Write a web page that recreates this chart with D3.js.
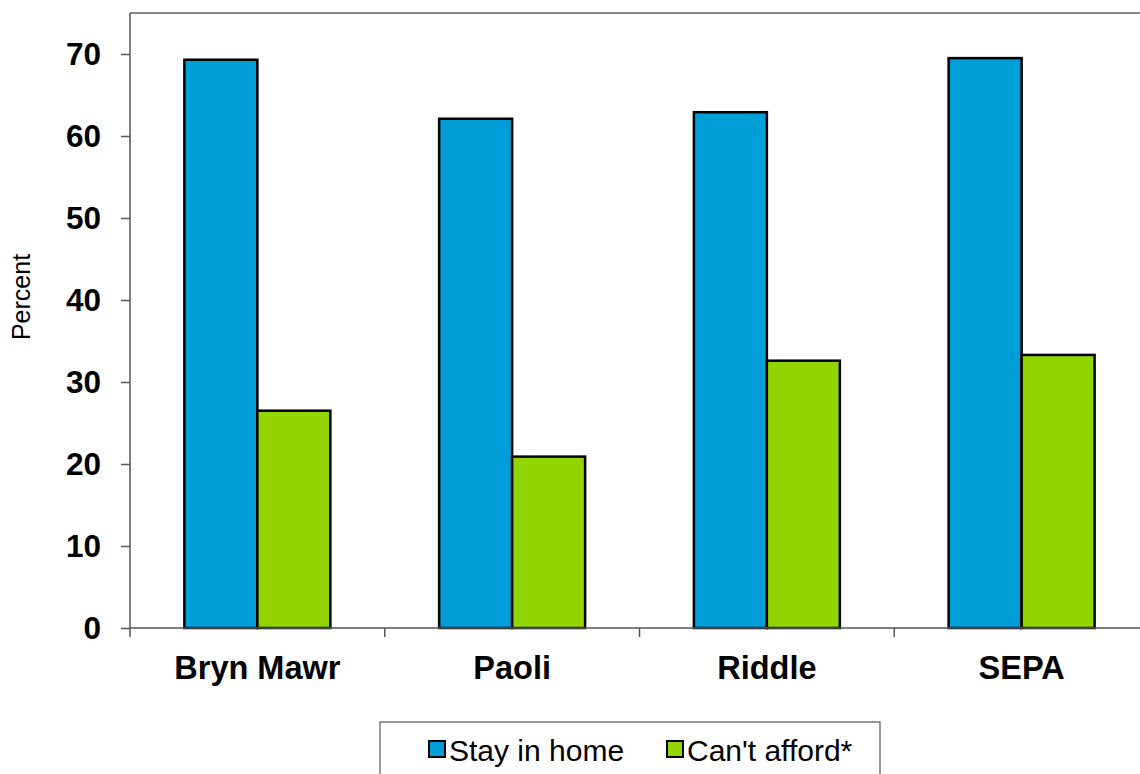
<!DOCTYPE html>
<html>
<head>
<meta charset="utf-8">
<script src="https://cdn.jsdelivr.net/npm/d3@7"></script>
<style>
  html, body { margin: 0; padding: 0; background: #fff; overflow: hidden; }
  svg { display: block; overflow: hidden; }
</style>
</head>
<body>
<svg id="chart" width="1140" height="774"></svg>
<script>
const categories = ["Bryn Mawr", "Paoli", "Riddle", "SEPA"];
const seriesNames = ["Stay in home", "Can't afford*"];
const stayInHome = [69.3, 62.1, 62.9, 69.5];
const cantAfford = [26.5, 20.9, 32.6, 33.3];
const yTicks = [0, 10, 20, 30, 40, 50, 60, 70];
const colors = ["#009ED8", "#93D500"];

(function () {
const root = d3.select("#chart");
root.append("defs").append("clipPath").attr("id", "view")
  .append("rect").attr("x", 0).attr("y", 0).attr("width", 1140).attr("height", 774);
const svg = root.append("g").attr("clip-path", "url(#view)");
const font = "'Liberation Sans', Arial, sans-serif";

const pLeft = 130, pRight = 1149, pTop = 13, pBottom = 628;

const x0 = d3.scaleBand().domain(categories).range([pLeft, pRight]).paddingInner(0.427).paddingOuter(0.2135);
const x1 = d3.scaleBand().domain(seriesNames).range([0, x0.bandwidth()]);
const y = d3.scaleLinear().domain([0, 75]).range([pBottom, pBottom - 75 * 8.2]);

// top frame line
svg.append("line").attr("x1", pLeft).attr("x2", pRight).attr("y1", pTop).attr("y2", pTop)
  .attr("stroke", "#888").attr("stroke-width", 2);

const rows = categories.map((c, i) => ({ cat: c, vals: [stayInHome[i], cantAfford[i]] }));

const groups = svg.append("g").selectAll("g").data(rows).join("g")
  .attr("transform", d => `translate(${x0(d.cat)},0)`);
groups.selectAll("rect").data(d => d.vals.map((v, j) => ({ v, s: seriesNames[j], j })))
  .join("rect")
  .attr("x", d => x1(d.s))
  .attr("width", x1.bandwidth())
  .attr("y", d => y(d.v))
  .attr("height", d => y(0) - y(d.v))
  .attr("fill", d => colors[d.j])
  .attr("stroke", "#000")
  .attr("stroke-width", 2.5);

// Y axis
const yAxis = svg.append("g").attr("transform", `translate(${pLeft},0)`)
  .call(d3.axisLeft(y).tickValues(yTicks).tickSize(9).tickPadding(20).tickFormat(d3.format("d")));
yAxis.select(".domain").attr("d", `M0,${pTop}V${pBottom}`).attr("stroke", "#555").attr("stroke-width", 1.5);
yAxis.selectAll(".tick line").attr("stroke", "#555").attr("stroke-width", 1.5);
yAxis.selectAll(".tick text").attr("font-family", font).attr("font-size", 31.5).attr("font-weight", "bold").attr("fill", "#000");

// X axis
const boundaries = d3.range(categories.length + 1).map(i => pLeft + i * x0.step());
const xAxisG = svg.append("g");
xAxisG.append("line").attr("x1", pLeft).attr("x2", pRight).attr("y1", pBottom).attr("y2", pBottom)
  .attr("stroke", "#555").attr("stroke-width", 1.5);
xAxisG.selectAll("line.tk").data(boundaries).join("line").attr("class", "tk")
  .attr("x1", d => d).attr("x2", d => d).attr("y1", pBottom).attr("y2", pBottom + 9)
  .attr("stroke", "#555").attr("stroke-width", 1.5);
xAxisG.selectAll("text").data(categories).join("text")
  .attr("x", d => x0(d) + x0.bandwidth() / 2)
  .attr("y", 679)
  .attr("text-anchor", "middle")
  .attr("font-family", font).attr("font-size", 32.5).attr("font-weight", "bold")
  .text(d => d);

// Y label
svg.append("text").attr("transform", "translate(30,297) rotate(-90)")
  .attr("text-anchor", "middle").attr("font-family", font).attr("font-size", 25)
  .text("Percent");

// Legend
const lg = svg.append("g");
lg.append("rect").attr("x", 380).attr("y", 722).attr("width", 500).attr("height", 70)
  .attr("fill", "#fff").attr("stroke", "#555").attr("stroke-width", 1.2);
const legendX = [429, 667];
seriesNames.forEach((s, i) => {
  lg.append("rect").attr("x", legendX[i]).attr("y", 741).attr("width", 16).attr("height", 16)
    .attr("fill", colors[i]).attr("stroke", "#000").attr("stroke-width", 2);
  lg.append("text").attr("x", legendX[i] + 20).attr("y", 761)
    .attr("font-family", font).attr("font-size", 30).text(s);
});
})();
</script>
</body>
</html>
